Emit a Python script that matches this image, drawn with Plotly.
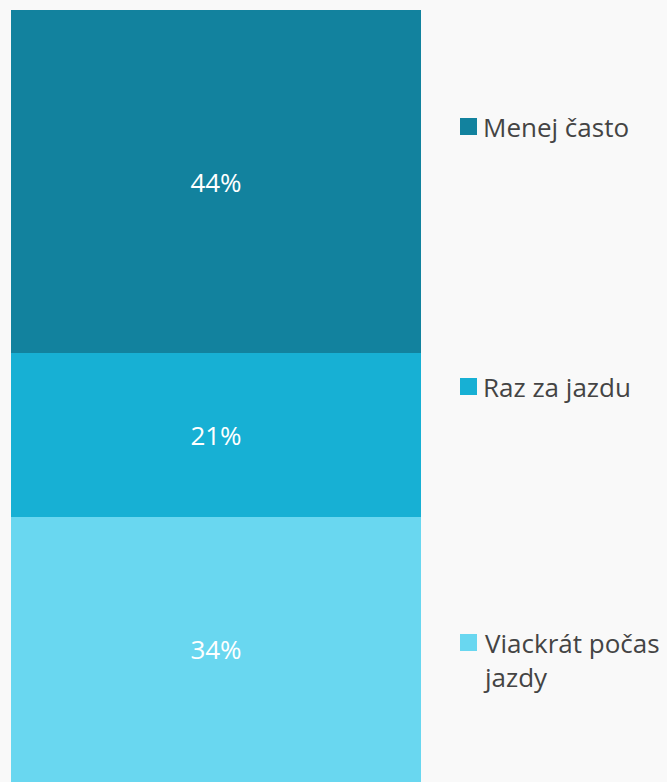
import plotly.graph_objects as go

# data
categories = ["Viackrát počas jazdy", "Raz za jazdu", "Menej často"]
legend_labels = ["Viackrát počas<br>jazdy", "Raz za jazdu", "Menej často"]
values = [34, 21, 44]
colors = ["#69d7f0", "#17b0d4", "#12829e"]

# legend row positions (paper coords, top of the square), bottom to top
legend_y = [0.1917, 0.5233, 0.8601]

fig = go.Figure()
for name, val, col in zip(categories, values, colors):
    fig.add_trace(go.Bar(
        x=["all"], y=[val], name=name,
        marker=dict(color=col, line=dict(width=0)),
        text=[f"{val}%"], textposition="inside", insidetextanchor="middle",
        textfont=dict(color="white", size=26, family="Open Sans"),
        width=1, hoverinfo="skip", showlegend=False,
    ))

sq = 17 / 772
for lab, col, ytop in zip(legend_labels, colors, legend_y):
    fig.add_shape(type="rect", xref="paper", yref="paper",
                  x0=(460 - 11) / 410, x1=(477 - 11) / 410,
                  y0=ytop - sq, y1=ytop,
                  fillcolor=col, line=dict(width=0))
    fig.add_annotation(xref="paper", yref="paper", x=(481 - 11) / 410,
                       y=ytop + 11 / 772, xanchor="left", yanchor="top",
                       text=lab, showarrow=False, align="left",
                       font=dict(size=26, color="#444444", family="Open Sans"))

fig.update_layout(
    barmode="stack",
    width=667, height=782,
    margin=dict(l=11, r=246, t=10, b=0),
    paper_bgcolor="#f9f9f9", plot_bgcolor="#f9f9f9",
    xaxis=dict(visible=False, range=[-0.5, 0.5]),
    yaxis=dict(visible=False, range=[0, sum(values)]),
    uniformtext=dict(mode="show", minsize=10),
)

fig.write_html("out.html", config={"displayModeBar": False},
               post_script="document.body.style.margin='0';"
                           "document.body.style.background='#f9f9f9';")
